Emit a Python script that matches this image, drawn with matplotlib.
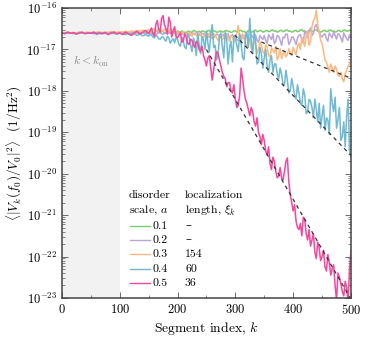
import numpy as np
import matplotlib
matplotlib.use("Agg")
import matplotlib.pyplot as plt

plt.rcParams["font.family"] = ["cmr10", "DejaVu Serif"]
plt.rcParams["mathtext.fontset"] = "cm"
plt.rcParams["axes.formatter.use_mathtext"] = True

# segment index: every 5 segments, plus half-way points where the curves are noisy
k = np.arange(0, 501, 5)
k_mid = np.arange(152.5, 500, 5)

# log10 of <|V_k(f0)/V0|^2>
log_a01 = [
    -16.60, -16.61, -16.59, -16.60, -16.62, -16.60, -16.59, -16.61, -16.60, -16.60,
    -16.59, -16.61, -16.60, -16.62, -16.59, -16.60, -16.61, -16.60, -16.59, -16.60,
    -16.61, -16.60, -16.59, -16.61, -16.60, -16.60, -16.58, -16.61, -16.59, -16.60,
    -16.59, -16.58, -16.60, -16.57, -16.59, -16.56, -16.58, -16.60, -16.57, -16.58,
    -16.55, -16.58, -16.57, -16.59, -16.56, -16.58, -16.55, -16.57, -16.59, -16.56,
    -16.58, -16.54, -16.57, -16.56, -16.58, -16.55, -16.57, -16.54, -16.56, -16.58,
    -16.55, -16.57, -16.54, -16.56, -16.58, -16.55, -16.57, -16.53, -16.56, -16.55,
    -16.57, -16.54, -16.56, -16.53, -16.55, -16.57, -16.54, -16.56, -16.53, -16.55,
    -16.57, -16.54, -16.56, -16.52, -16.55, -16.57, -16.54, -16.56, -16.53, -16.55,
    -16.57, -16.54, -16.56, -16.53, -16.55, -16.57, -16.54, -16.56, -16.53, -16.55,
    -16.52,
]
mid_a01 = [
    -16.57, -16.60, -16.56, -16.59, -16.57, -16.60, -16.56, -16.58, -16.55, -16.59,
    -16.58, -16.55, -16.59, -16.56, -16.58, -16.54, -16.58, -16.56, -16.55, -16.58,
    -16.55, -16.58, -16.54, -16.58, -16.56, -16.58, -16.55, -16.57, -16.59, -16.55,
    -16.58, -16.54, -16.57, -16.59, -16.54, -16.58, -16.55, -16.57, -16.54, -16.58,
    -16.55, -16.57, -16.53, -16.56, -16.58, -16.54, -16.57, -16.53, -16.56, -16.58,
    -16.54, -16.57, -16.53, -16.56, -16.58, -16.54, -16.57, -16.53, -16.56, -16.58,
    -16.54, -16.57, -16.53, -16.56, -16.58, -16.54, -16.57, -16.53, -16.56, -16.54,
]
log_a02 = [
    -16.60, -16.59, -16.61, -16.60, -16.60, -16.62, -16.59, -16.60, -16.61, -16.60,
    -16.60, -16.59, -16.61, -16.60, -16.62, -16.60, -16.59, -16.60, -16.61, -16.60,
    -16.59, -16.61, -16.60, -16.60, -16.62, -16.59, -16.60, -16.61, -16.59, -16.62,
    -16.60, -16.63, -16.59, -16.62, -16.60, -16.64, -16.61, -16.58, -16.63, -16.60,
    -16.62, -16.65, -16.60, -16.63, -16.67, -16.61, -16.64, -16.60, -16.66, -16.62,
    -16.65, -16.70, -16.62, -16.68, -16.64, -16.72, -16.63, -16.69, -16.75, -16.64,
    -16.70, -16.78, -16.66, -16.74, -16.68, -16.80, -16.70, -16.65, -16.82, -16.72,
    -16.66, -16.85, -16.70, -16.62, -16.80, -16.68, -16.90, -16.72, -16.64, -16.82,
    -16.70, -16.88, -16.66, -16.76, -16.55, -16.72, -16.48, -16.62, -16.40, -16.58,
    -16.70, -16.62, -16.80, -16.66, -16.58, -16.75, -16.64, -16.82, -16.68, -16.78,
    -16.70,
]
mid_a02 = [
    -16.62, -16.60, -16.64, -16.59, -16.62, -16.60, -16.63, -16.61, -16.59, -16.64,
    -16.60, -16.63, -16.66, -16.60, -16.64, -16.62, -16.59, -16.65, -16.61, -16.68,
    -16.62, -16.66, -16.72, -16.63, -16.70, -16.66, -16.74, -16.62, -16.68, -16.70,
    -16.76, -16.66, -16.72, -16.62, -16.76, -16.64, -16.74, -16.78, -16.66, -16.76,
    -16.78, -16.64, -16.76, -16.86, -16.66, -16.78, -16.70, -16.62, -16.88, -16.70,
    -16.78, -16.72, -16.64, -16.85, -16.62, -16.58, -16.66, -16.45, -16.52, -16.66,
    -16.64, -16.74, -16.60, -16.72, -16.66, -16.62, -16.72, -16.60, -16.74, -16.64,
]
log_a03 = [
    -16.59, -16.60, -16.58, -16.60, -16.59, -16.61, -16.58, -16.60, -16.59, -16.58,
    -16.60, -16.58, -16.59, -16.57, -16.60, -16.58, -16.59, -16.57, -16.58, -16.59,
    -16.57, -16.58, -16.56, -16.58, -16.55, -16.57, -16.54, -16.56, -16.53, -16.55,
    -16.52, -16.55, -16.50, -16.54, -16.52, -16.56, -16.53, -16.57, -16.55, -16.60,
    -16.58, -16.63, -16.57, -16.65, -16.60, -16.68, -16.62, -16.70, -16.64, -16.72,
    -16.66, -16.60, -16.74, -16.65, -16.78, -16.68, -16.72, -16.62, -16.80, -16.70,
    -16.76, -16.42, -16.85, -16.72, -16.95, -16.80, -17.05, -16.86, -16.98, -16.90,
    -17.10, -16.95, -17.18, -17.02, -16.92, -17.15, -17.22, -17.05, -17.12, -17.08,
    -16.95, -17.12, -16.85, -16.70, -16.92, -16.55, -16.80, -16.30, -16.05, -16.60,
    -16.85, -17.25, -17.42, -17.35, -17.55, -17.48, -17.65, -17.70, -17.58, -17.40,
    -17.25,
]
mid_a03 = [
    -16.56, -16.51, -16.55, -16.49, -16.55, -16.51, -16.58, -16.52, -16.62, -16.56,
    -16.62, -16.58, -16.66, -16.58, -16.64, -16.60, -16.66, -16.60, -16.70, -16.62,
    -16.72, -16.68, -16.62, -16.72, -16.64, -16.76, -16.62, -16.74, -16.66, -16.82,
    -16.60, -16.70, -16.62, -16.88, -16.70, -16.98, -16.78, -17.10, -16.82, -17.05,
    -16.88, -17.15, -16.96, -17.08, -17.25, -16.98, -17.10, -17.18, -16.98, -17.15,
    -17.05, -16.92, -17.00, -16.80, -16.68, -16.90, -16.45, -16.25, -16.40, -16.78,
    -17.05, -17.30, -17.55, -17.45, -17.40, -17.62, -17.55, -17.78, -17.50, -17.35,
]
log_a04 = [
    -16.61, -16.60, -16.59, -16.61, -16.60, -16.62, -16.60, -16.59, -16.61, -16.60,
    -16.60, -16.62, -16.59, -16.61, -16.60, -16.59, -16.62, -16.60, -16.61, -16.63,
    -16.60, -16.62, -16.64, -16.61, -16.65, -16.62, -16.66, -16.63, -16.67, -16.64,
    -16.68, -16.65, -16.72, -16.68, -16.75, -16.70, -16.80, -16.72, -16.78, -16.84,
    -16.76, -16.92, -16.80, -16.98, -16.70, -17.05, -16.85, -16.62, -17.10, -16.78,
    -16.55, -17.06, -16.40, -16.90, -17.15, -16.60, -17.20, -16.75, -16.95, -17.30,
    -16.70, -17.05, -16.85, -17.25, -16.60, -16.25, -17.10, -16.80, -17.30, -17.10,
    -17.20, -17.40, -17.25, -17.55, -17.35, -17.70, -17.60, -17.85, -17.75, -18.00,
    -17.90, -18.20, -18.05, -18.35, -18.10, -18.50, -18.25, -18.65, -18.45, -18.30,
    -18.60, -18.95, -18.70, -17.95, -18.50, -18.90, -18.40, -19.10, -19.35, -18.20,
    -19.60,
]
mid_a04 = [
    -16.64, -16.70, -16.66, -16.74, -16.70, -16.76, -16.68, -16.85, -16.74, -16.70,
    -16.88, -16.70, -16.95, -16.62, -16.88, -16.72, -17.15, -16.90, -16.68, -17.00,
    -16.85, -16.62, -16.95, -17.25, -16.70, -16.92, -16.58, -17.35, -16.80, -16.68,
    -16.90, -16.62, -17.20, -16.72, -16.95, -16.80, -16.55, -17.35, -16.95, -17.45,
    -17.00, -17.55, -17.15, -17.35, -17.60, -17.45, -17.85, -17.50, -18.05, -17.70,
    -18.10, -17.85, -18.30, -17.95, -18.55, -18.20, -18.40, -18.20, -18.75, -18.90,
    -18.35, -18.65, -19.05, -18.30, -18.15, -18.70, -19.20, -18.75, -18.60, -19.45,
]
log_a05 = [
    -16.60, -16.62, -16.58, -16.61, -16.59, -16.63, -16.60, -16.58, -16.62, -16.60,
    -16.61, -16.58, -16.63, -16.60, -16.62, -16.59, -16.64, -16.60, -16.58, -16.62,
    -16.60, -16.64, -16.58, -16.62, -16.66, -16.60, -16.56, -16.63, -16.58, -16.54,
    -16.62, -16.48, -16.68, -16.30, -16.58, -16.18, -16.50, -16.22, -16.70, -16.45,
    -16.72, -16.60, -16.80, -16.70, -16.88, -16.78, -16.95, -16.85, -17.05, -17.15,
    -17.40, -17.15, -17.74, -17.25, -17.10, -17.40, -17.65, -17.90, -17.80, -18.05,
    -18.20, -18.35, -17.45, -18.00, -18.30, -18.60, -18.50, -18.85, -19.00, -19.30,
    -19.20, -19.55, -19.75, -19.60, -19.95, -20.05, -20.10, -19.95, -19.62, -20.50,
    -20.90, -21.15, -21.35, -21.50, -21.10, -21.60, -21.75, -21.45, -22.05, -21.80,
    -22.00, -22.25, -21.95, -22.45, -22.20, -23.05, -22.50, -22.85, -22.60, -23.10,
    -21.85,
]
mid_a05 = [
    -16.55, -16.62, -16.40, -16.52, -16.25, -16.40, -16.62, -16.35, -16.55, -16.68,
    -16.65, -16.82, -16.62, -16.85, -16.75, -16.90, -16.80, -17.00, -16.92, -17.25,
    -17.20, -17.45, -17.50, -17.05, -17.25, -17.55, -17.70, -17.80, -18.00, -17.85,
    -18.40, -18.10, -17.70, -18.20, -18.45, -18.40, -18.75, -18.65, -19.10, -19.05,
    -19.45, -19.35, -19.90, -19.70, -20.10, -19.85, -20.15, -19.70, -20.20, -20.70,
    -20.75, -21.30, -21.20, -21.05, -21.45, -21.35, -21.60, -21.90, -21.65, -22.10,
    -21.85, -22.35, -22.15, -22.30, -22.70, -22.40, -22.65, -22.95, -22.75, -22.30,
]

disorder = ["0.1", "0.2", "0.3", "0.4", "0.5"]
xi_labels = ["\u2013", "\u2013", "154", "60", "36"]
colors = ["#7fcc6e", "#bba6d9", "#fdb97d", "#6fbad2", "#f5479c"]

# exponential fits exp(-2 (k - k_start) / xi), for a = 0.3, 0.4, 0.5
fit_xi = [154, 60, 36]
fit_kstart = [345, 299, 250]
fit_logstart = [-16.82, -16.65, -17.00]

fig = plt.figure(figsize=(3.66, 3.37), dpi=100)
ax = fig.add_axes([0.169, 0.116, 0.79, 0.86])

ax.axvspan(0, 100, color="#f2f2f2", lw=0, zorder=0)

series = [(log_a01, mid_a01), (log_a02, mid_a02), (log_a03, mid_a03),
          (log_a04, mid_a04), (log_a05, mid_a05)]
k_all = np.concatenate([k, k_mid])
order = np.argsort(k_all)
for (vals, mids), c in zip(series, colors):
    y = np.concatenate([vals, mids])[order]
    ax.plot(k_all[order], 10.0 ** y, color=c, lw=1.1, zorder=2)

for xi, ks, ls in zip(fit_xi, fit_kstart, fit_logstart):
    kk = np.linspace(ks, 500, 50)
    ax.plot(kk, 10.0 ** ls * np.exp(-2 * (kk - ks) / xi),
            color="#333333", lw=0.9, ls=(0, (3, 3)), zorder=3)

ax.set_yscale("log")
ax.set_xlim(0, 500)
ax.set_ylim(1e-23, 1e-16)
ax.set_yticks([10.0 ** e for e in range(-23, -15)])
ax.set_xticks([0, 100, 200, 300, 400, 500])
ax.set_xticks(np.arange(50, 500, 100), minor=True)
ax.tick_params(which="both", direction="in", top=True, right=True,
               labelsize=9, color="#555555")
ax.tick_params(which="major", length=4, width=0.6)
ax.tick_params(which="minor", length=2, width=0.5)
for s in ax.spines.values():
    s.set_color("#444444")
    s.set_linewidth(1.1)

ax.set_xlabel(r"Segment index, $k$", fontsize=9.8, labelpad=2)
ax.set_ylabel(r"$\langle |V_k(f_0)/V_0|^2 \rangle$  (1/Hz$^2$)", fontsize=9.5, labelpad=2)

ax.text(19, 10 ** -17.28, r"$k < k_{\rm on}$", color="#888888", fontsize=8.5, va="center")

# hand-built two-column legend (axes fraction coordinates)
row_y = [0.355, 0.303, 0.248, 0.200, 0.150, 0.100, 0.052]
x_line = (0.235, 0.304)
x_lab = 0.313
x_xi = 0.426
tr = ax.transAxes
ax.text(x_line[0] - 0.004, row_y[0], "disorder", transform=tr, fontsize=8.5, va="center")
ax.text(x_line[0] - 0.004, row_y[1], "scale, $a$", transform=tr, fontsize=8.5, va="center")
ax.text(x_xi, row_y[0], "localization", transform=tr, fontsize=8.5, va="center")
ax.text(x_xi, row_y[1], r"length, $\xi_k$", transform=tr, fontsize=8.5, va="center")
for yy, c, lab, xl in zip(row_y[2:], colors, disorder, xi_labels):
    ax.plot(x_line, [yy, yy], color=c, lw=1.0, transform=tr)
    ax.text(x_lab, yy, lab, transform=tr, fontsize=8.5, va="center")
    ax.text(x_xi, yy, xl, transform=tr, fontsize=8.5, va="center")

fig.savefig("out.png", dpi=100)
